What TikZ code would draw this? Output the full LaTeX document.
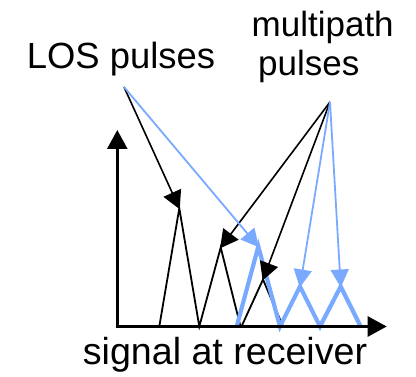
\documentclass[tikz,border=0pt]{standalone}
\usepackage{fontspec}
\setmainfont{Liberation Sans}
\usetikzlibrary{arrows.meta}
\definecolor{pulseblue}{RGB}{122,170,255}
\tikzset{
  lbl/.style={inner sep=0pt, font=\fontsize{#1}{38}\selectfont},
  lbl/.default=35,
  axisline/.style={line width=2.6pt, -{Triangle[length=19pt,width=20pt]}},
  blackpulse/.style={line width=1.8pt, line join=miter},
  bluepulse/.style={pulseblue, line width=4.2pt, line join=miter},
  blackarrow/.style={line width=1.6pt, -{Triangle[length=18pt,width=19pt]}, shorten >=-1pt},
  bluearrow/.style={pulseblue, line width=1.8pt, -{Triangle[length=18pt,width=18pt]}, shorten >=-1pt}
}
\begin{document}
\begin{tikzpicture}[x=1pt, y=-1pt]
\useasboundingbox (0,0) rectangle (416,377);

% labels
\node[lbl=36.4, anchor=base] (lostext) at (121,68.3) {LOS pulses};
\node[lbl, anchor=base west] (mptext) at (251.5,37) {multipath};
\node[lbl, anchor=base west] (mptext2) at (258,75.5) {pulses};
\node[lbl=37.6, anchor=base] (rxtext) at (225,365) {signal at receiver};

% arrow sources
\coordinate (los) at (124,87);
\coordinate (mp) at (330,102);

% axes
\coordinate (o) at (117.3,326.5);
\coordinate (ytop) at (117.3,130);
\coordinate (xend) at (386.7,326.5);

% base points and peaks of the pulses
\coordinate (b0) at (159.3,326.5);
\coordinate (b1) at (199.3,326.5);
\coordinate (b2) at (240.5,326.5);
\coordinate (b3) at (241.5,326.5);
\coordinate (b4) at (283,326.5);
\coordinate (k1) at (179.3,208.3);
\coordinate (k2) at (220.7,247.5);
\coordinate (k3) at (263,279.5);

\coordinate (c0) at (236.7,326.5);
\coordinate (c1) at (280,326.5);
\coordinate (c2) at (320,326.5);
\coordinate (c3) at (360.7,326.5);
\coordinate (p1) at (258.3,246.5);
\coordinate (p2) at (300,286.5);
\coordinate (p3) at (340.7,286.5);

% black pulses
\draw[blackpulse] (b0) -- (k1) -- (b1) -- (k2) -- (b2);
\draw[blackpulse] (b3) -- (k3) -- (b4);

% blue pulses
\draw[bluepulse] (c0) -- (p1) -- (c1) -- (p2) -- (c2) -- (p3) -- (c3);

% axes on top of the pulse bases
\draw[axisline] (o) -- (ytop);
\draw[axisline] ([xshift=-1.3pt]o) -- (xend);

% arrows from the labels to the pulse peaks
\draw[blackarrow] (los) -- (k1);
\draw[blackarrow] (mp) -- (k2);
\draw[blackarrow] (mp) -- (k3);
\draw[bluearrow] (los) -- (p1);
\draw[bluearrow] (mp) -- (p2);
\draw[bluearrow] (mp) -- (p3);
\end{tikzpicture}
\end{document}
